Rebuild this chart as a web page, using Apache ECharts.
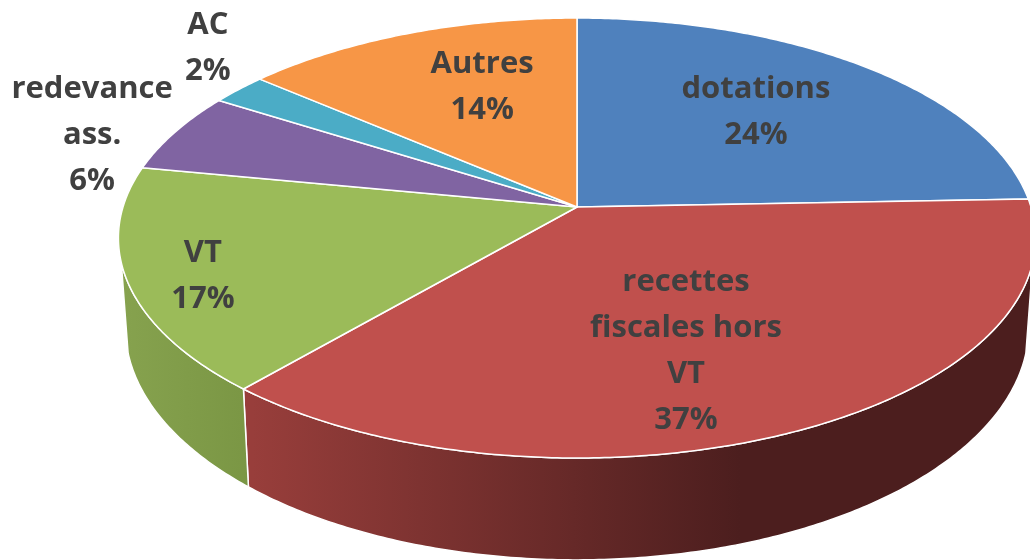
<!DOCTYPE html>
<html><head><meta charset="utf-8">
<style>html,body{margin:0;padding:0;background:#fff}#c{width:1030px;height:560px}</style>
<script src="https://cdn.jsdelivr.net/npm/echarts@6/dist/echarts.min.js"></script>
</head><body><div id="c"></div>
<script>
const categories = ['dotations', 'recettes\nfiscales hors\nVT', 'VT', 'redevance\nass.', 'AC', 'Autres'];
const shares = [24.4, 37, 16.6, 5.9, 2.3, 13.8];
const topColors = ['#4f81bd', '#c0504d', '#9bbb59', '#8064a2', '#4bacc6', '#f79646'];
const wallStops = [['#4c1e1e', '#4c1e1e'], ['#983e3b', '#4c1e1e'], ['#86a24e', '#7a9644'], ['#8064a2', '#8064a2'], ['#4bacc6', '#4bacc6'], ['#f79646', '#f79646']];
const labelAnchors = [[.394, .44], [.24, -.671], [-.824, -.323], [-1.068, .331], [-.813, .735], [-.209, .554]];

const PERSPECTIVE = 0.141, WALL_SCALE = 0.985, WALL_DROP = 0.406;
const total = shares.reduce((a, b) => a + b, 0);
const starts = shares.map((_, i) => shares.slice(0, i).reduce((a, b) => a + b, 0) / total * Math.PI * 2);

function onDisc(theta, drop) {
  const w = 1 + PERSPECTIVE * Math.cos(theta);
  return [Math.sin(theta) / w, Math.cos(theta) / w - drop / w];
}
function arc(a, b, drop, api) {
  const n = Math.max(2, Math.ceil((b - a) / 0.01)), pts = [];
  for (let k = 0; k <= n; k++) pts.push(api.coord(onDisc(a + (b - a) * k / n, drop)));
  return pts;
}
function renderItem(params, api) {
  const i = api.value(0), a = starts[i], b = a + api.value(1) / total * Math.PI * 2;
  const children = [];
  const fa = Math.max(a, Math.PI * 0.58), fb = Math.min(b, Math.PI * 1.42);
  const c = api.coord([0, 0]);
  if (fb > fa) {
    const top = arc(fa, fb, 0, api);
    const low = arc(fa, fb, WALL_DROP, api).map(p => [c[0] + (p[0] - c[0]) * WALL_SCALE, p[1]]);
    const x0 = api.coord(onDisc(Math.PI * 1.22, 0))[0];
    const x1 = api.coord([0.36, 0])[0];
    children.push({
      type: 'polygon', shape: { points: top.concat(low.reverse()) },
      z2: 1,
      style: {
        fill: i === 2
          ? new echarts.graphic.LinearGradient(api.coord([-1, 0])[0], 0, x0, 0, [
              { offset: 0, color: wallStops[i][0] }, { offset: 1, color: wallStops[i][1] }
            ], true)
          : new echarts.graphic.LinearGradient(x0, 0, x1, 0, [
              { offset: 0, color: wallStops[i][0] }, { offset: 1, color: wallStops[i][1] }
            ], true),
        stroke: '#fff', lineWidth: 1.5
      }
    });
  }
  const face = [c].concat(arc(a, b, 0, api));
  children.push({ type: 'polygon', shape: { points: face }, z2: 5, style: { fill: topColors[i], stroke: '#fff', lineWidth: 1.5, lineJoin: 'round' } });
  const at = api.coord(labelAnchors[i]);
  children.push({
    type: 'text', z2: 10, x: at[0], y: at[1],
    style: {
      text: categories[i] + '\n' + Math.round(api.value(1)) + '%',
      font: '700 31px "Open Sans", sans-serif', fill: '#404040',
      align: 'center', verticalAlign: 'middle', lineHeight: 46
    }
  });
  return { type: 'group', children };
}
const chart = echarts.init(document.getElementById('c'), null, { renderer: 'canvas' });
chart.setOption({
  animation: false,
  backgroundColor: '#fff',
  grid: { left: 0, top: 0, width: 1030, height: 560 },
  xAxis: { type: 'value', min: -1.27093, max: 0.99780, show: false },
  yAxis: { type: 'value', min: -1.63729, max: 0.96011, show: false },
  series: [{
    type: 'custom', coordinateSystem: 'cartesian2d', renderItem, clip: false,
    encode: { x: 2, y: 3 },
    data: shares.map((v, i) => [i, v, 0, 0])
  }]
});
</script></body></html>
